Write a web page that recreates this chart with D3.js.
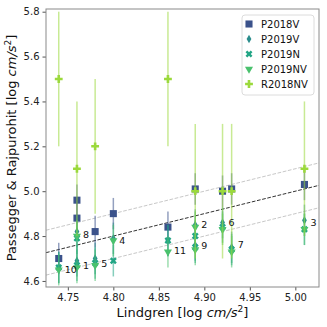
<!DOCTYPE html>
<html>
<head>
<meta charset="utf-8">
<script src="https://cdn.jsdelivr.net/npm/d3@7"></script>
<style>
	body { margin: 0; background: #fff; }
	text { font-family: "DejaVu Sans", sans-serif; }
</style>
</head>
<body>
<div id="chart"></div>
<script>
	// values
	var p2018vX = [4.74, 4.76, 4.76, 4.78, 4.80, 4.86, 4.89, 4.92, 4.93, 5.01];
	var p2018vY = [4.70, 4.96, 4.88, 4.82, 4.90, 4.84, 5.01, 5.00, 5.01, 5.03];

	var p2019vX = [4.74, 4.76, 4.76, 4.78, 4.80, 4.86, 4.89, 4.89, 4.92, 4.93, 5.01];
	var p2019vY = [4.66, 4.82, 4.69, 4.70, 4.79, 4.78, 4.85, 4.76, 4.86, 4.75, 4.87];

	var p2019nX = [4.74, 4.76, 4.76, 4.78, 4.80, 4.86, 4.89, 4.89, 4.92, 4.93, 5.01];
	var p2019nY = [4.66, 4.79, 4.67, 4.68, 4.69, 4.78, 4.80, 4.75, 4.84, 4.74, 4.83];

	var p2019nvX = [4.74, 4.76, 4.76, 4.78, 4.80, 4.86, 4.89, 4.89, 4.92, 4.93, 5.01];
	var p2019nvY = [4.65, 4.80, 4.66, 4.67, 4.78, 4.73, 4.84, 4.74, 4.83, 4.73, 4.83];

	var r2018nvX = [4.74, 4.76, 4.78, 4.86, 4.89, 4.92, 4.93, 5.01];
	var r2018nvY = [5.50, 5.10, 5.20, 5.50, 5.00, 5.00, 5.00, 5.10];

	var errP = 0.07;
	var errR = 0.3;

	var starNames = ['10', '1', '8', '5', '4', '11', '2', '9', '6', '7', '3'];
	var starX = [4.74, 4.76, 4.76, 4.78, 4.80, 4.86, 4.89, 4.89, 4.92, 4.93, 5.01];
	var starY = [4.649, 4.666, 4.804, 4.678, 4.779, 4.737, 4.849, 4.755, 4.859, 4.760, 4.859];

	var xTicks = [4.75, 4.80, 4.85, 4.90, 4.95, 5.00];
	var yTicks = [4.6, 4.8, 5.0, 5.2, 5.4, 5.6, 5.8];
	var lineOffsets = [0, 0.1, -0.1];

	var margin = {top: 9, right: 8, bottom: 40, left: 46},
		width = 327 - margin.left - margin.right,
		height = 327 - margin.top - margin.bottom;

	var x = d3.scaleLinear().domain([4.726, 5.026]).range([0, width]);
	var y = d3.scaleLinear().domain([4.573, 5.812]).range([height, 0]);

	var svg = d3.select('#chart')
		.append('svg')
		.attr('width', 327)
		.attr('height', 327)
		.append('g')
		.attr('transform', 'translate(' + margin.left + ',' + margin.top + ')');

	svg.append('defs').append('clipPath').attr('id', 'clip')
		.append('rect').attr('width', width).attr('height', height);

	var plot = svg.append('g').attr('clip-path', 'url(#clip)');

	// 1:1 line and +-0.1 lines
	var dom = x.domain();
	lineOffsets.forEach(function (o) {
		plot.append('line')
			.attr('x1', x(dom[0])).attr('y1', y(dom[0] + o))
			.attr('x2', x(dom[1])).attr('y2', y(dom[1] + o))
			.attr('stroke', o === 0 ? '#333' : '#c8c8c8')
			.attr('stroke-width', 1)
			.attr('stroke-dasharray', '3.7,1.6');
	});

	var series = [
		{name: 'P2018V', xs: p2018vX, ys: p2018vY, err: errP, color: '#3b528b', shape: 'square'},
		{name: 'P2019V', xs: p2019vX, ys: p2019vY, err: errP, color: '#2a8d8c', shape: 'diamond'},
		{name: 'P2019N', xs: p2019nX, ys: p2019nY, err: errP, color: '#22a585', shape: 'x'},
		{name: 'P2019NV', xs: p2019nvX, ys: p2019nvY, err: errP, color: '#4ac16d', shape: 'tri'},
		{name: 'R2018NV', xs: r2018nvX, ys: r2018nvY, err: errR, color: '#9bd93c', shape: 'plus'}
	];

	function marker(sel, shape, color) {
		var path, tr = '';
		switch (shape) {
			case 'square':
				path = d3.symbol().type(d3.symbolSquare).size(50)();
				break;
			case 'diamond':
				path = d3.symbol().type(d3.symbolDiamond).size(20)();
				break;
			case 'x':
				path = d3.symbol().type(d3.symbolCross).size(30)();
				tr = ' rotate(45)';
				break;
			case 'tri':
				path = d3.symbol().type(d3.symbolTriangle).size(28)();
				tr = ' rotate(180)';
				break;
			default:
				path = d3.symbol().type(d3.symbolCross).size(34)();
		}
		sel.append('path')
			.attr('d', path)
			.attr('fill', color)
			.attr('transform', function (d) {
				return 'translate(' + x(d.x) + ',' + y(d.y) + ')' + tr;
			});
	}

	series.forEach(function (s) {
		var pts = s.xs.map(function (v, i) { return {x: v, y: s.ys[i]}; });
		var g = plot.append('g');
		g.selectAll('line.err')
			.data(pts)
			.enter()
			.append('line')
			.attr('class', 'err')
			.attr('x1', function (d) { return x(d.x); })
			.attr('x2', function (d) { return x(d.x); })
			.attr('y1', function (d) { return y(d.y - s.err); })
			.attr('y2', function (d) { return y(d.y + s.err); })
			.attr('stroke', s.color)
			.attr('stroke-opacity', 0.55)
			.attr('stroke-width', 1.5);
		var m = g.selectAll('g.pt').data(pts).enter().append('g').attr('class', 'pt');
		marker(m, s.shape, s.color);
	});

	// star numbers
	svg.selectAll('text.star')
		.data(starNames)
		.enter()
		.append('text')
		.attr('class', 'star')
		.attr('x', function (d, i) { return x(starX[i]) + 6; })
		.attr('y', function (d, i) { return y(starY[i]); })
		.attr('dy', '0.35em')
		.attr('font-size', 9.5)
		.attr('fill', '#111')
		.text(function (d) { return d; });

	// axes
	var xAxis = svg.append('g')
		.attr('transform', 'translate(0,' + height + ')')
		.call(d3.axisBottom(x).tickValues(xTicks).tickFormat(d3.format('.2f')).tickSize(3.5).tickPadding(3));
	var yAxis = svg.append('g')
		.call(d3.axisLeft(y).tickValues(yTicks).tickFormat(d3.format('.1f')).tickSize(3.5).tickPadding(3));
	[xAxis, yAxis].forEach(function (a) {
		a.select('.domain').remove();
		a.selectAll('line').attr('stroke', '#555');
		a.selectAll('text').attr('font-size', 10).attr('fill', '#222')
			.style('font-family', '"DejaVu Sans", sans-serif');
	});

	svg.append('rect')
		.attr('width', width).attr('height', height)
		.attr('fill', 'none')
		.attr('stroke', '#8a8a8a')
		.attr('stroke-width', 1);

	// axis titles
	var xl = svg.append('text')
		.attr('x', width / 2)
		.attr('y', height + 30)
		.attr('text-anchor', 'middle')
		.attr('font-size', 13)
		.attr('fill', '#111');
	xl.append('tspan').text('Lindgren [log ');
	xl.append('tspan').attr('font-style', 'italic').text('cm/s');
	xl.append('tspan').attr('font-size', 9).attr('dy', -5).text('2');
	xl.append('tspan').attr('dy', 5).text(']');

	var yl = svg.append('text')
		.attr('transform', 'translate(' + (-30) + ',' + (height / 2) + ') rotate(-90)')
		.attr('text-anchor', 'middle')
		.attr('font-size', 13)
		.attr('fill', '#111');
	yl.append('tspan').text('Passegger & Rajpurohit [log ');
	yl.append('tspan').attr('font-style', 'italic').text('cm/s');
	yl.append('tspan').attr('font-size', 9).attr('dy', -5).text('2');
	yl.append('tspan').attr('dy', 5).text(']');

	// legend
	var lg = svg.append('g').attr('transform', 'translate(' + (width - 77) + ',6)');
	lg.append('rect')
		.attr('width', 72).attr('height', 80)
		.attr('rx', 3)
		.attr('fill', '#fff').attr('fill-opacity', 0.85)
		.attr('stroke', '#dcdcdc');
	series.forEach(function (s, i) {
		var row = lg.append('g').attr('transform', 'translate(0,' + (9 + i * 15) + ')');
		var m = row.selectAll('g').data([{x: 0, y: 0}]).enter().append('g')
			.attr('transform', function () { return 'translate(' + (7 - x(0)) + ',' + (-y(0)) + ')'; });
		marker(m, s.shape, s.color);
		row.append('text')
			.attr('x', 19)
			.attr('dy', '0.35em')
			.attr('font-size', 10)
			.attr('fill', '#111')
			.text(s.name);
	});
</script>
</body>
</html>
